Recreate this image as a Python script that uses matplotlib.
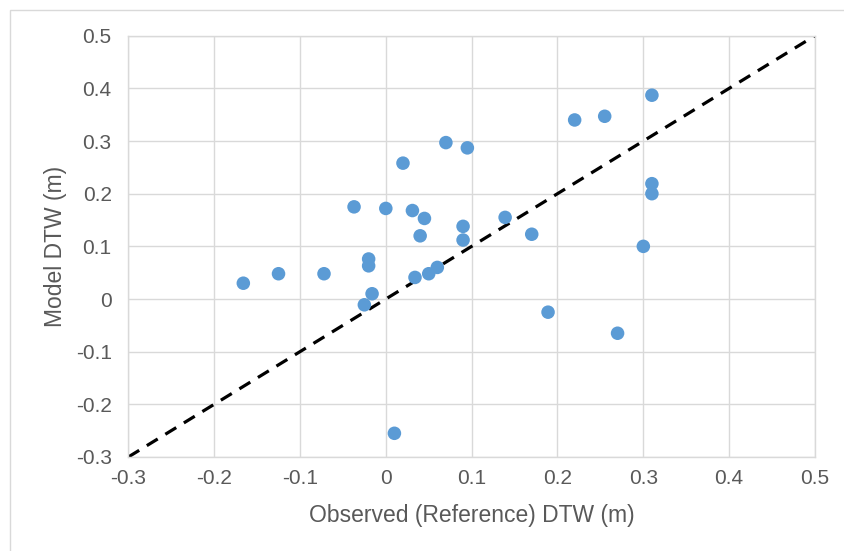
import matplotlib
matplotlib.use("Agg")
import matplotlib.pyplot as plt
from matplotlib.patches import Rectangle

plt.rcParams['font.family'] = ['Liberation Sans', 'DejaVu Sans']

observed = [-0.166, -0.125, -0.072, -0.037, 0.000, -0.020, -0.020, -0.016, -0.025, 0.010,
            0.020, 0.031, 0.045, 0.040, 0.070, 0.095, 0.034, 0.050, 0.060, 0.090,
            0.090, 0.139, 0.170, 0.189, 0.220, 0.255, 0.310, 0.310, 0.310, 0.300, 0.270]
model = [0.030, 0.048, 0.048, 0.175, 0.172, 0.076, 0.063, 0.010, -0.011, -0.255,
         0.258, 0.168, 0.153, 0.120, 0.297, 0.287, 0.041, 0.048, 0.060, 0.138,
         0.112, 0.155, 0.123, -0.025, 0.340, 0.347, 0.387, 0.219, 0.200, 0.100, -0.065]
line_ends = [-0.3, 0.5]
ticks = [-0.3, -0.2, -0.1, 0, 0.1, 0.2, 0.3, 0.4, 0.5]
tick_labels = ['-0.3', '-0.2', '-0.1', '0', '0.1', '0.2', '0.3', '0.4', '0.5']

fig = plt.figure(figsize=(8.45, 5.51), dpi=100)
fig.patches.append(Rectangle((10/845, -0.1), 2.0, 1 - 10/551 + 0.1, transform=fig.transFigure,
                             fill=False, edgecolor='#d9d9d9', linewidth=1.0))
ax = fig.add_axes([128.3/845, 1 - 457/551, (815 - 128.3)/845, (457 - 35.7)/551])

ax.plot(line_ends, line_ends, color='black', linestyle=(0, (4, 2.8)), linewidth=2.3, zorder=2)
ax.scatter(observed, model, s=95, color='#5B9BD5', edgecolors='none', zorder=3)

ax.set_xlim(-0.3, 0.5)
ax.set_ylim(-0.3, 0.5)
ax.set_xticks(ticks)
ax.set_xticklabels(tick_labels)
ax.set_yticks(ticks)
ax.set_yticklabels(tick_labels)
ax.grid(True, color='#d9d9d9', linewidth=1.0, zorder=0)
ax.set_axisbelow(True)
for s in ax.spines.values():
    s.set_color('#d9d9d9')
    s.set_linewidth(1.0)
ax.tick_params(axis='x', length=0, labelsize=15, labelcolor='#595959', pad=9)
ax.tick_params(axis='y', length=0, labelsize=15, labelcolor='#595959', pad=12)
ax.set_xlabel('Observed (Reference) DTW (m)', fontsize=16.5, color='#595959', labelpad=11)
ax.set_ylabel('Model DTW (m)', fontsize=16.5, color='#595959', labelpad=6)

fig.savefig('out.png', dpi=100)
